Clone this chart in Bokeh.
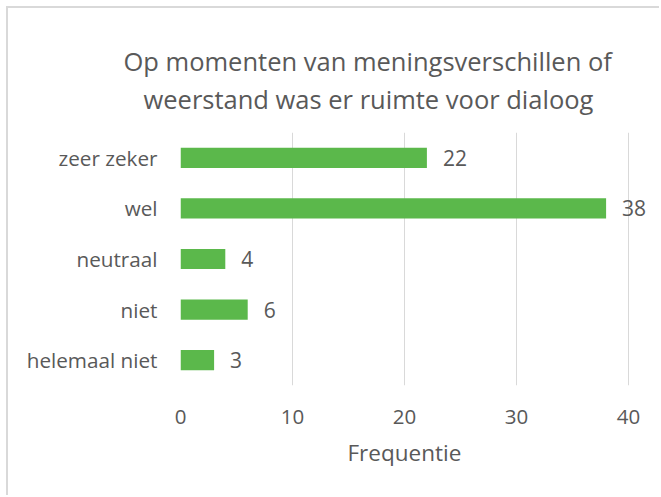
from bokeh.plotting import figure
from bokeh.models import Range1d, FactorRange, FixedTicker, Title, ColumnDataSource
from bokeh.core.properties import value
from bokeh.embed import file_html
from bokeh.resources import INLINE

categories = ["helemaal niet", "niet", "neutraal", "wel", "zeer zeker"]
counts = [3, 6, 4, 38, 22]
x_ticks = [0, 10, 20, 30, 40]
title_lines = ["Op momenten van meningsverschillen of", "weerstand was er ruimte voor dialoog"]
x_label = "Frequentie"

FONT = "Open Sans"
TXT = "#595959"
BAR = "#5BB84B"
GRID = "#d9d9d9"

src = ColumnDataSource(dict(cat=categories, n=counts, lbl=[str(v) for v in counts]))

# frame: 0..40 spans 448 px; extend the range to the right edge so value labels are not clipped
px_per_unit = 448 / 40
x_end = 40 + (653 - 172 - 448) / px_per_unit

p = figure(width=653, height=489, y_range=FactorRange(*categories, range_padding=0),
           x_range=Range1d(0, x_end), output_backend="svg", toolbar_location=None,
           min_border_left=172, min_border_right=0, min_border_top=124, min_border_bottom=112)
p.outline_line_color = None
p.background_fill_color = "white"
p.border_fill_color = "white"
p.styles = {"margin-left": "6px", "margin-top": "6px",
            "border-left": "2px solid #d9d9d9", "border-top": "2px solid #d9d9d9"}

p.hbar(y="cat", right="n", left=0, height=0.4, source=src, fill_color=BAR, line_color=None)
p.text(x="n", y="cat", text="lbl", source=src, x_offset=16, text_align="left",
       text_baseline="middle", text_font=value(FONT), text_font_size="21px", text_color=TXT)

p.xaxis.ticker = FixedTicker(ticks=x_ticks)
p.xgrid.ticker = FixedTicker(ticks=x_ticks)
p.xgrid.grid_line_color = GRID
p.ygrid.grid_line_color = None
for ax in (p.xaxis, p.yaxis):
    ax.axis_line_color = None
    ax.major_tick_line_color = None
    ax.minor_tick_line_color = None
    ax.major_tick_in = 0
    ax.major_tick_out = 0
    ax.major_label_text_font = FONT
    ax.major_label_text_color = TXT
p.xaxis.major_label_text_font_size = "20.5px"
p.yaxis.major_label_text_font_size = "20.7px"
p.xaxis.major_label_standoff = 24
p.yaxis.major_label_standoff = 23

# axis title, placed under the 0..40 part of the axis
p.add_layout(Title(text=x_label, align="left", offset=167, standoff=20, vertical_align="top",
                   text_font=FONT, text_font_size="22.5px", text_font_style="normal",
                   text_color=TXT), "below")

# chart title: the later one added sits further from the frame
p.add_layout(Title(text=title_lines[1], align="left", offset=-37, standoff=33,
                   text_font=FONT, text_font_size="25.5px", text_font_style="normal",
                   text_color=TXT), "above")
p.add_layout(Title(text=title_lines[0], align="left", offset=-57, standoff=-28,
                   text_font=FONT, text_font_size="25.5px", text_font_style="normal",
                   text_color=TXT), "above")

open("out.html", "w").write(file_html(p, INLINE))
